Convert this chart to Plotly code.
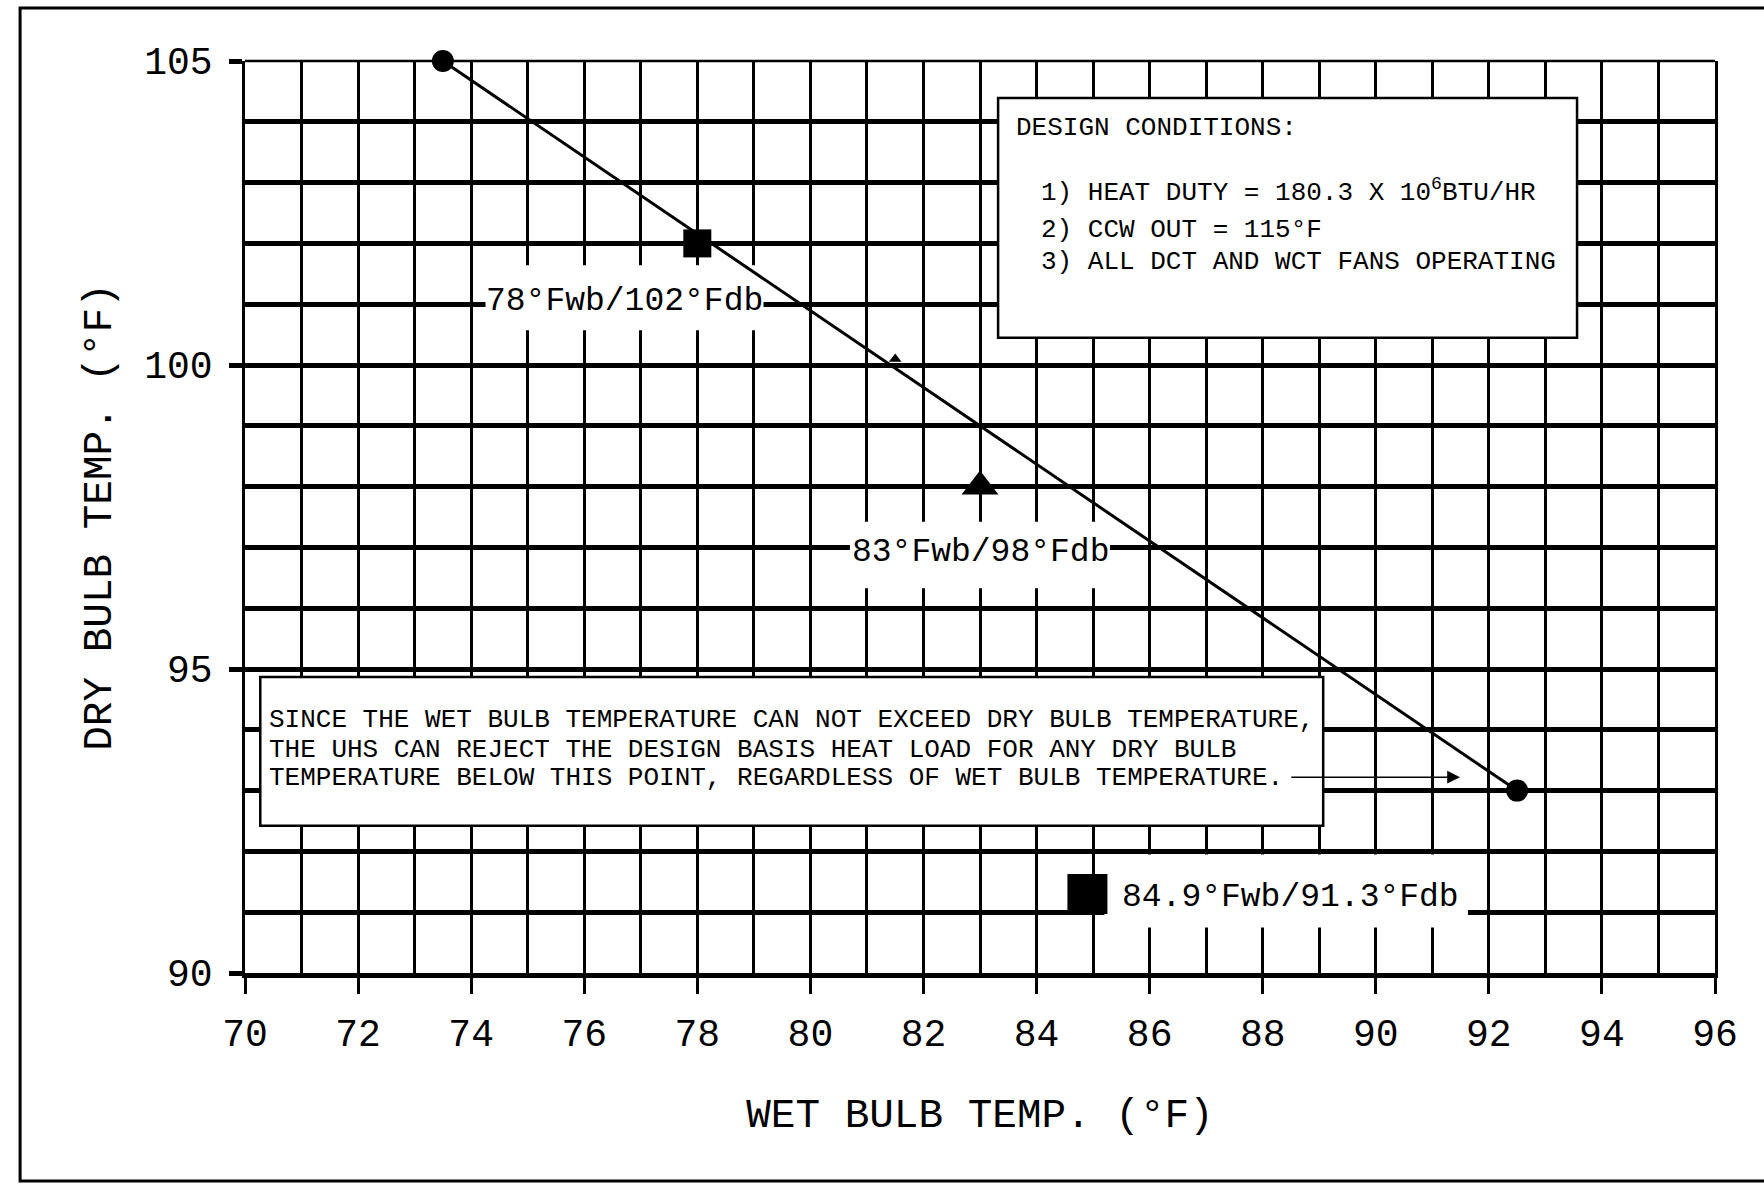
import plotly.graph_objects as go

# ---------------- data ----------------
X_RANGE = [70, 96]
Y_RANGE = [90, 105]
x_tick_vals = list(range(70, 97, 2))
x_tick_text = [str(v) for v in x_tick_vals]
y_tick_vals = [90, 95, 100, 105]
y_tick_text = ["90", "95", "100", "105"]
y_minor_vals = [v for v in range(91, 105) if v not in (95, 100)]

# design-basis limit line (wet bulb °F, dry bulb °F)
line_wb = [73.5, 92.5]
line_db = [105.0, 93.0]

# plotted points
circle_wb = [73.5, 92.5]
circle_db = [105.0, 93.0]
small_sq_wb = [78.0]
small_sq_db = [102.0]
big_sq_wb = [84.9]
big_sq_db = [91.3]
tri_wb = [83.0]
tri_db = [98.0]
dot_wb = [81.5]
dot_db = [100.1]

# point labels
point_labels = ["78°Fwb/102°Fdb", "83°Fwb/98°Fdb", "84.9°Fwb/91.3°Fdb"]
point_label_x = [76.72, 83.0, 88.5]
point_label_y = [101.05, 96.91, 91.24]

design_title = "DESIGN CONDITIONS:"
design_lines = [
    "1) HEAT DUTY = 180.3 X 10<sup>6</sup>BTU/HR",
    "2) CCW OUT = 115°F",
    "3) ALL DCT AND WCT FANS OPERATING",
]
note_lines = [
    "SINCE THE WET BULB TEMPERATURE CAN NOT EXCEED DRY BULB TEMPERATURE,",
    "THE UHS CAN REJECT THE DESIGN BASIS HEAT LOAD FOR ANY DRY BULB",
    "TEMPERATURE BELOW THIS POINT, REGARDLESS OF WET BULB TEMPERATURE.",
]

# ---------------- style / layout constants ----------------
MONO = "Liberation Mono"
W, H = 1764, 1186
ML, MR, MT, MB = 245, 49, 61, 213

fig = go.Figure()

fig.add_trace(go.Scatter(x=line_wb, y=line_db, mode="lines", cliponaxis=False,
                         line=dict(color="black", width=3), hoverinfo="skip"))
fig.add_trace(go.Scatter(x=circle_wb, y=circle_db, mode="markers", cliponaxis=False,
                         marker=dict(symbol="circle", size=22, color="black")))
fig.add_trace(go.Scatter(x=small_sq_wb, y=small_sq_db, mode="markers", cliponaxis=False,
                         marker=dict(symbol="square", size=28, color="black")))
fig.add_trace(go.Scatter(x=big_sq_wb, y=big_sq_db, mode="markers", cliponaxis=False,
                         marker=dict(symbol="square", size=40, color="black")))
fig.add_trace(go.Scatter(x=tri_wb, y=tri_db, mode="markers", cliponaxis=False,
                         marker=dict(symbol="triangle-up", size=32, color="black")))
fig.add_trace(go.Scatter(x=dot_wb, y=dot_db, mode="markers", cliponaxis=False,
                         marker=dict(symbol="triangle-up", size=11, color="black")))

shapes = []
# white gaps in the grid around the point labels (drawn above grid, below traces)
gaps = [(74.45, 79.12, 100.57, 101.64),
        (80.7, 85.3, 96.33, 97.42),
        (85.2, 91.63, 90.75, 91.95)]
for x0, x1, y0, y1 in gaps:
    shapes.append(dict(type="rect", xref="x", yref="y", x0=x0, x1=x1, y0=y0, y1=y1,
                       fillcolor="white", line=dict(width=0), layer="between"))
# text boxes
shapes.append(dict(type="rect", xref="x", yref="y", x0=83.32, x1=93.56, y0=100.45, y1=104.39,
                   fillcolor="white", line=dict(color="black", width=2.5), layer="between"))
shapes.append(dict(type="rect", xref="x", yref="y", x0=70.27, x1=89.07, y0=92.42, y1=94.87,
                   fillcolor="white", line=dict(color="black", width=2.5), layer="between"))
# top frame line of the plot
shapes.append(dict(type="line", xref="paper", yref="paper", x0=0, x1=1, y0=1, y1=1,
                   line=dict(color="black", width=2.5), layer="between"))
# outer drawing border
shapes.append(dict(type="rect", xref="paper", yref="paper",
                   x0=-0.153, x1=1.036, y0=-0.228, y1=1.058,
                   line=dict(color="black", width=3), fillcolor="rgba(0,0,0,0)", layer="below"))

annotations = []
for txt, x, y in zip(point_labels, point_label_x, point_label_y):
    annotations.append(dict(x=x, y=y, xref="x", yref="y", text=txt, showarrow=False,
                            font=dict(family=MONO, size=33, color="black"),
                            bgcolor="white", borderpad=0))

annotations.append(dict(x=83.6, y=103.90, xref="x", yref="y", text=design_title,
                        showarrow=False, xanchor="left",
                        font=dict(family=MONO, size=26, color="black")))
for txt, y in zip(design_lines, [102.86, 102.22, 101.69]):
    annotations.append(dict(x=84.05, y=y, xref="x", yref="y", text=txt, showarrow=False,
                            xanchor="left", font=dict(family=MONO, size=26, color="black")))
for txt, y in zip(note_lines, [94.16, 93.67, 93.21]):
    annotations.append(dict(x=70.39, y=y, xref="x", yref="y", text=txt, showarrow=False,
                            xanchor="left", font=dict(family=MONO, size=26, color="black")))
# arrow pointing to the end point
annotations.append(dict(x=91.49, y=93.22, ax=88.48, ay=93.22, xref="x", yref="y",
                        axref="x", ayref="y", text="", showarrow=True,
                        arrowhead=2, arrowsize=1.6, arrowwidth=1.6, arrowcolor="black"))

fig.update_layout(
    width=W, height=H,
    margin=dict(l=ML, r=MR, t=MT, b=MB),
    paper_bgcolor="white", plot_bgcolor="white",
    showlegend=False,
    shapes=shapes, annotations=annotations,
    xaxis=dict(
        range=X_RANGE, tickmode="array", tickvals=x_tick_vals, ticktext=x_tick_text,
        ticks="outside", ticklen=16, tickwidth=2.5, tickcolor="black",
        ticklabelstandoff=6,
        showgrid=True, gridcolor="black", gridwidth=2.5,
        minor=dict(dtick=1, tick0=70, showgrid=True, gridcolor="black", gridwidth=2.5, ticks=""),
        showline=True, linecolor="black", linewidth=5, mirror=False,
        zeroline=False,
        tickfont=dict(family=MONO, size=38, color="black"),
        title=dict(text="WET BULB TEMP. (°F)", standoff=44,
                   font=dict(family=MONO, size=41, color="black")),
    ),
    yaxis=dict(
        range=Y_RANGE, tickmode="array", tickvals=y_tick_vals, ticktext=y_tick_text,
        ticks="outside", ticklen=13, tickwidth=4.5, tickcolor="black",
        ticklabelstandoff=9,
        showgrid=True, gridcolor="black", gridwidth=4.5,
        minor=dict(tickmode="array", tickvals=y_minor_vals, showgrid=True,
                   gridcolor="black", gridwidth=4.5, ticks=""),
        showline=True, linecolor="black", linewidth=2.5, mirror=True,
        zeroline=False,
        tickfont=dict(family=MONO, size=38, color="black"),
        title=dict(text="DRY BULB TEMP. (°F)", standoff=20,
                   font=dict(family=MONO, size=41, color="black")),
    ),
)

fig.write_html("out.html", config={"displayModeBar": False},
               post_script="document.body.style.margin='0';document.body.style.overflow='hidden';")
